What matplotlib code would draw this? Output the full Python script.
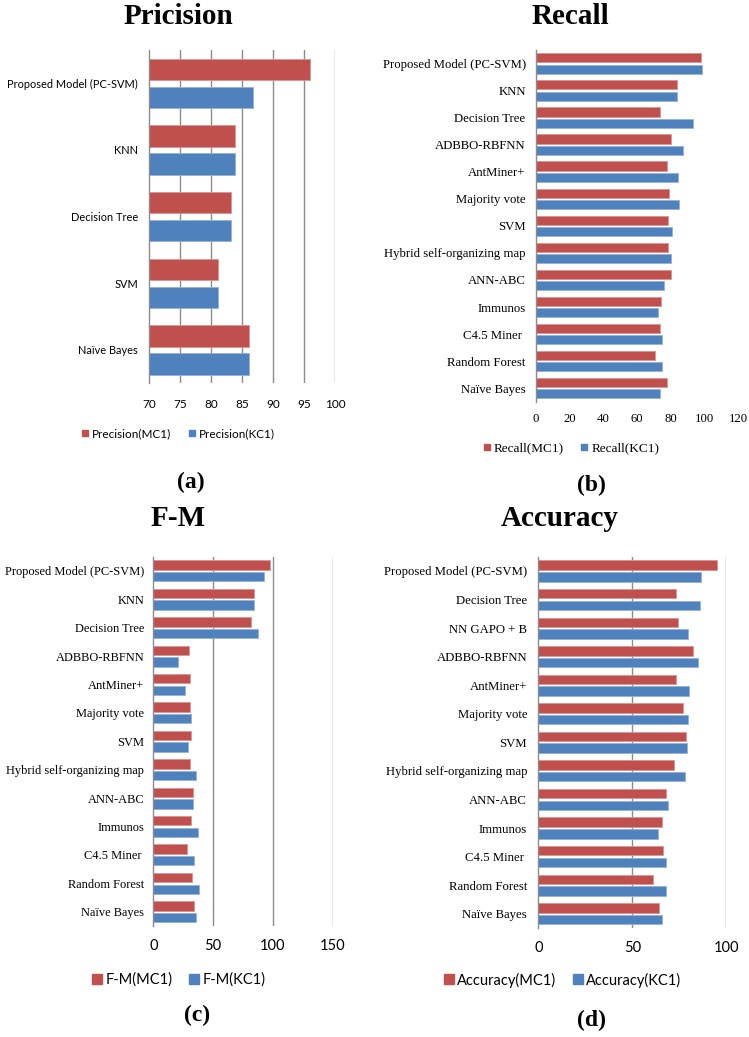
import matplotlib
matplotlib.use("Agg")
import matplotlib.pyplot as plt
import numpy as np
from matplotlib.lines import Line2D

W, H = 749, 1037
RED = "#C0504D"
BLUE = "#4F81BD"
RED_EDGE = "#D99694"
BLUE_EDGE = "#95B3D7"
GRID = "#8C8C8C"
SANS = "Lato"
SERIF = "Liberation Serif"

# ---------------- data ----------------
prec_labels = ["Proposed Model (PC-SVM)", "KNN", "Decision Tree", "SVM", "Naïve Bayes"]
prec_mc1 = [96.0, 83.9, 83.2, 81.1, 86.1]
prec_kc1 = [86.8, 83.9, 83.2, 81.1, 86.1]
prec_ticks = [70, 75, 80, 85, 90, 95, 100]

rec_labels = ["Proposed Model (PC-SVM)", "KNN", "Decision Tree", "ADBBO-RBFNN", "AntMiner+",
              "Majority vote", "SVM", "Hybrid self-organizing map", "ANN-ABC", "Immunos",
              "C4.5 Miner ", "Random Forest", "Naïve Bayes"]
rec_mc1 = [98.1, 83.9, 73.6, 80.2, 78.1, 79.3, 78.3, 78.3, 80.2, 74.2, 73.8, 70.5, 77.9]
rec_kc1 = [98.8, 83.9, 93.2, 87.2, 84.3, 84.9, 80.6, 80.2, 76.2, 72.3, 75.0, 75.2, 73.6]
rec_ticks = [0, 20, 40, 60, 80, 100, 120]

fm_labels = ["Proposed Model (PC-SVM)", "KNN", "Decision Tree", "ADBBO-RBFNN", "AntMiner+",
             "Majority vote", "SVM", "Hybrid self-organizing map", "ANN-ABC", "Immunos",
             "C4.5 Miner ", "Random Forest", "Naïve Bayes"]
fm_mc1 = [97.8, 84.5, 81.4, 29.8, 31.0, 30.7, 31.5, 30.7, 33.2, 31.2, 27.9, 32.3, 34.3]
fm_kc1 = [92.8, 84.5, 87.8, 20.4, 26.2, 31.2, 29.3, 36.0, 33.2, 37.1, 34.3, 38.1, 36.0]
fm_ticks = [0, 50, 100, 150]

acc_labels = ["Proposed Model (PC-SVM)", "Decision Tree", "NN GAPO + B", "ADBBO-RBFNN", "AntMiner+",
              "Majority vote", "SVM", "Hybrid self-organizing map", "ANN-ABC", "Immunos",
              "C4.5 Miner ", "Random Forest", "Naïve Bayes"]
acc_mc1 = [95.1, 73.4, 74.3, 82.5, 73.2, 77.0, 78.6, 72.3, 67.9, 66.0, 66.5, 61.0, 64.4]
acc_kc1 = [86.5, 86.2, 79.4, 84.8, 80.3, 79.4, 79.1, 78.2, 68.8, 63.5, 68.0, 68.0, 65.8]
acc_ticks = [0, 50, 100]

fig = plt.figure(figsize=(W / 100, H / 100), dpi=100)


def rect(l, t, r, b):
    return [l / W, 1 - b / H, (r - l) / W, (b - t) / H]


def panel(box, labels, mc1, kc1, ticks, xlim, grid_ticks, lab_font, lab_size,
          tick_font, tick_size, ypad, xpad, bh, off):
    ax = fig.add_axes(rect(*box))
    y = np.arange(len(labels))
    ax.barh(y - off, mc1, height=bh, color=RED, edgecolor=RED_EDGE, linewidth=0.6, zorder=3)
    ax.barh(y + off, kc1, height=bh, color=BLUE, edgecolor=BLUE_EDGE, linewidth=0.6, zorder=3)
    ax.set_xlim(*xlim)
    ax.set_ylim(len(labels) - 0.5, -0.5)
    ax.set_yticks(y)
    ax.set_yticklabels(labels, fontfamily=lab_font, fontsize=lab_size)
    ax.set_xticks(ticks)
    ax.set_xticklabels([str(t) for t in ticks], fontfamily=tick_font, fontsize=tick_size)
    ax.tick_params(axis="y", length=0, pad=ypad)
    ax.tick_params(axis="x", length=0, pad=xpad)
    for s in ["top", "right", "bottom"]:
        ax.spines[s].set_visible(False)
    ax.spines["left"].set_color(GRID)
    ax.spines["left"].set_linewidth(1.0)
    ax.spines["left"].set_zorder(4)
    for g in grid_ticks:
        ax.axvline(g, color=GRID, linewidth=1.0, zorder=1)
    return ax


def legend(names, cx, cy, font, size, msize, colsp):
    handles = [Line2D([], [], marker="s", linestyle="none", color=RED, markersize=msize),
               Line2D([], [], marker="s", linestyle="none", color=BLUE, markersize=msize)]
    fig.legend(handles, names, loc="center", bbox_to_anchor=(cx / W, 1 - cy / H),
               ncol=2, frameon=False, handlelength=0.6, handletextpad=0.25,
               columnspacing=colsp, prop={"family": font, "size": size},
               borderpad=0, borderaxespad=0)


# (a) Precision
panel((149.3, 50, 335, 383.3), prec_labels, prec_mc1, prec_kc1, prec_ticks, (70, 100),
      [75, 80, 85, 90, 95, 100], SANS, 7.9, SANS, 8.5, 8.0, 11, 0.32, 0.21)
# (b) Recall
panel((535.7, 50, 738, 401.7), rec_labels, rec_mc1, rec_kc1, rec_ticks, (0, 120),
      [], SERIF, 9.2, SERIF, 9.2, 7.2, 8, 0.34, 0.21)
# (c) F-M
panel((153.3, 556.7, 332.7, 926), fm_labels, fm_mc1, fm_kc1, fm_ticks, (0, 150),
      [50, 100, 150], SERIF, 8.9, SANS, 10.5, 6.5, 9.5, 0.33, 0.205)
# (d) Accuracy
panel((538.3, 556.7, 726.3, 928), acc_labels, acc_mc1, acc_kc1, acc_ticks, (0, 100),
      [50, 100], SERIF, 9.2, SANS, 10.5, 8, 9.5, 0.33, 0.205)

# titles
for txt, x, y in [("Pricision", 178, 17), ("Recall", 570, 17), ("F-M", 178, 519), ("Accuracy", 560, 519)]:
    fig.text(x / W, 1 - y / H, txt, ha="center", va="center", fontfamily=SERIF,
             fontweight="bold", fontsize=21)

# legends
legend(["Precision(MC1)", "Precision(KC1)"], 178, 434, SANS, 8.5, 5, 1.5)
legend(["Recall(MC1)", "Recall(KC1)"], 571, 448, SERIF, 9.5, 5, 1.2)
legend(["F-M(MC1)", "F-M(KC1)"], 179, 980, SANS, 10.5, 7, 1.2)
legend(["Accuracy(MC1)", "Accuracy(KC1)"], 563, 980, SANS, 10.5, 7, 1.2)

# panel labels
for txt, x, y in [("(a)", 191, 482), ("(b)", 591, 485), ("(c)", 197, 1015), ("(d)", 592, 1020)]:
    fig.text(x / W, 1 - y / H, txt, ha="center", va="center", fontfamily=SERIF,
             fontweight="bold", fontsize=17)

fig.savefig("out.png", dpi=100)
